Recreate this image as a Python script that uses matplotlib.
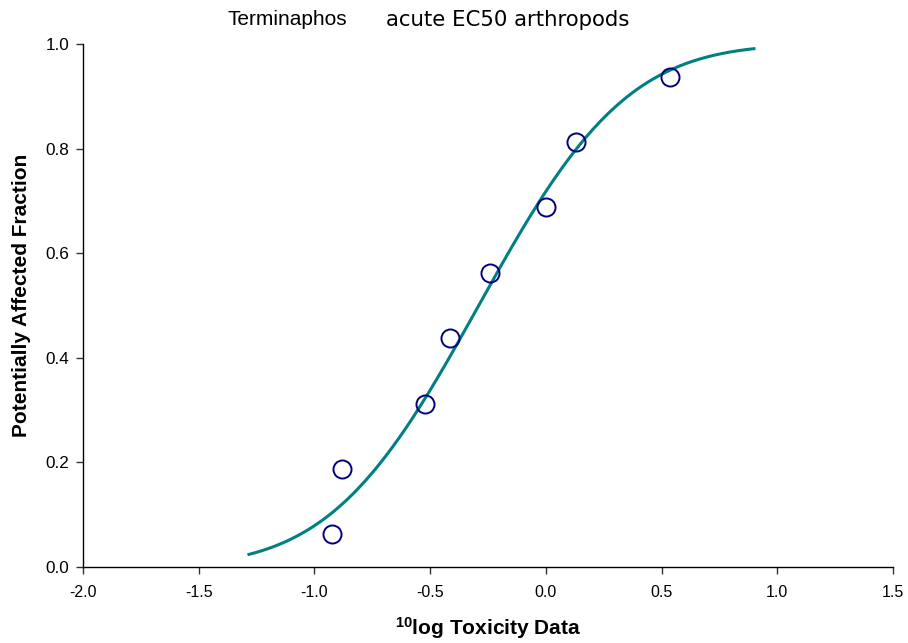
import math
import numpy as np
import matplotlib
matplotlib.use("Agg")
import matplotlib.pyplot as plt

plt.rcParams['font.family'] = ['Liberation Sans', 'DejaVu Sans']
plt.rcParams['mathtext.fontset'] = 'custom'
plt.rcParams['mathtext.rm'] = 'Liberation Sans'
plt.rcParams['mathtext.bf'] = 'Liberation Sans:bold'

# 10log toxicity values
log_tox = [-0.925, -0.882, -0.523, -0.415, -0.242, 0.000, 0.130, 0.536]
# plotting positions (i - 0.5) / n
paf = [0.0625, 0.1875, 0.3125, 0.4375, 0.5625, 0.6875, 0.8125, 0.9375]
curve_range = (-1.283, 0.899)

x_ticks = [-2.0, -1.5, -1.0, -0.5, 0.0, 0.5, 1.0, 1.5]
y_ticks = [0.0, 0.2, 0.4, 0.6, 0.8, 1.0]

# fitted normal distribution on the log values
mu = np.mean(log_tox)
sigma = np.std(log_tox, ddof=1)
xc = np.linspace(curve_range[0], curve_range[1], 300)
yc = np.array([0.5 * (1 + math.erf((v - mu) / (sigma * math.sqrt(2)))) for v in xc])

fig = plt.figure(figsize=(9.08, 6.43), dpi=100)
ax = fig.add_axes([0.0914, 0.1182, 0.8921, 0.8134])

ax.plot(xc, yc, color='#008080', lw=2.2, zorder=2)
ax.plot(log_tox, paf, 'o', ms=13, mfc='none', mec='#000080', mew=1.4, zorder=3)

ax.set_xlim(-2.0, 1.5)
ax.set_ylim(0.0, 1.0)
ax.set_xticks(x_ticks)
ax.set_yticks(y_ticks)
ax.set_xticklabels([f"{t:.1f}" for t in x_ticks], fontsize=11.5)
ax.set_yticklabels([f"{t:.1f}" for t in y_ticks], fontsize=12.3)
ax.tick_params(direction='out', length=5, width=1, color='#333333')
ax.tick_params(axis='x', pad=8)
ax.tick_params(axis='y', pad=5)

for s in ['top', 'right']:
    ax.spines[s].set_visible(False)
for s in ['left', 'bottom']:
    ax.spines[s].set_linewidth(1)

ax.set_xlabel(r"$\mathbf{^{10}}$log Toxicity Data", fontsize=15, fontweight='bold', labelpad=11)
ax.set_ylabel("Potentially Affected Fraction", fontsize=15, fontweight='bold')
ax.yaxis.set_label_coords(-0.064, 0.52)

fig.text(287 / 908, 1 - 25 / 643, "Terminaphos", fontsize=15, ha='center', va='baseline')
fig.text(508 / 908, 1 - 26 / 643, "acute EC50 arthropods", fontsize=15.3,
         family='DejaVu Sans', ha='center', va='baseline')

fig.savefig("out.png", dpi=100)
